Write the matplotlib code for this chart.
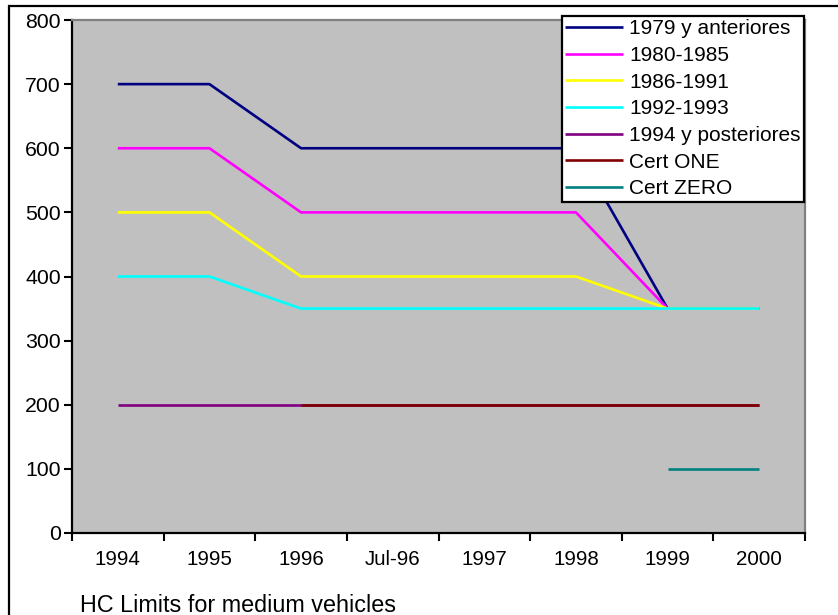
import matplotlib.pyplot as plt
from matplotlib.patches import Rectangle
import numpy as np

plt.rcParams['font.family'] = ['Liberation Sans', 'DejaVu Sans']

categories = ['1994', '1995', '1996', 'Jul-96', '1997', '1998', '1999', '2000']

names = ['1979 y anteriores', '1980-1985', '1986-1991', '1992-1993',
         '1994 y posteriores', 'Cert ONE', 'Cert ZERO']
colors = ['#000080', '#FF00FF', '#FFFF00', '#00FFFF',
          '#800080', '#800000', '#008080']

s1979 = [700, 700, 600, 600, 600, 600, 350, 350]
s1980 = [600, 600, 500, 500, 500, 500, 350, 350]
s1986 = [500, 500, 400, 400, 400, 400, 350, 350]
s1992 = [400, 400, 350, 350, 350, 350, 350, 350]
s1994 = [200, 200, 200, 200, 200, 200, 200, 200]
cert_one = [None, None, 200, 200, 200, 200, 200, 200]
cert_zero = [None, None, None, None, None, None, 100, 100]

series = [s1979, s1980, s1986, s1992, s1994, cert_one, cert_zero]

W, H = 838, 615
fig = plt.figure(figsize=(W / 100, H / 100), dpi=100)

# outer chart frame (runs off the right and bottom edges)
fig.patches.append(Rectangle((9 / W, -0.1), 1.2, 1 - 5.5 / H + 0.1,
                             transform=fig.transFigure, fill=False,
                             edgecolor='black', linewidth=1.6))

ax = fig.add_axes([72 / W, 1 - 533 / H, 733 / W, 513 / H])
ax.set_facecolor('#C0C0C0')

x = np.arange(len(categories))
for vals, name, c in zip(series, names, colors):
    y = np.array([np.nan if v is None else v for v in vals], dtype=float)
    ax.plot(x, y, color=c, linewidth=1.9, label=name, solid_capstyle='butt')

ax.set_xlim(-0.5, len(categories) - 0.5)
ax.set_ylim(0, 800)

ax.set_xticks(np.arange(-0.5, len(categories)), labels=[])
ax.set_xticks(x, labels=categories, minor=True)
ax.tick_params(axis='x', which='major', length=6, width=1.5, direction='out')
ax.tick_params(axis='x', which='minor', length=0, pad=12, labelsize=14.8)

ax.set_yticks(np.arange(0, 801, 100))
ax.tick_params(axis='y', length=6, width=1.5, direction='out', pad=2,
               labelsize=15.3)

for side in ['left', 'bottom']:
    ax.spines[side].set_linewidth(1.6)
    ax.spines[side].set_color('black')
for side in ['top', 'right']:
    ax.spines[side].set_linewidth(1.6)
    ax.spines[side].set_color('#808080')

fig.text(80 / W, 1 - 605 / H, 'HC Limits for medium vehicles',
         fontsize=16.8, va='center', ha='left')

leg = fig.legend(loc='upper right', bbox_to_anchor=(804 / W, 1 - 16 / H),
                 borderaxespad=0, fontsize=15, handlelength=2.8,
                 handletextpad=0.3, labelspacing=0.37, borderpad=0.15,
                 fancybox=False, framealpha=1, facecolor='white',
                 edgecolor='black')
leg.get_frame().set_linewidth(1.6)

fig.savefig('out.png', dpi=100)
